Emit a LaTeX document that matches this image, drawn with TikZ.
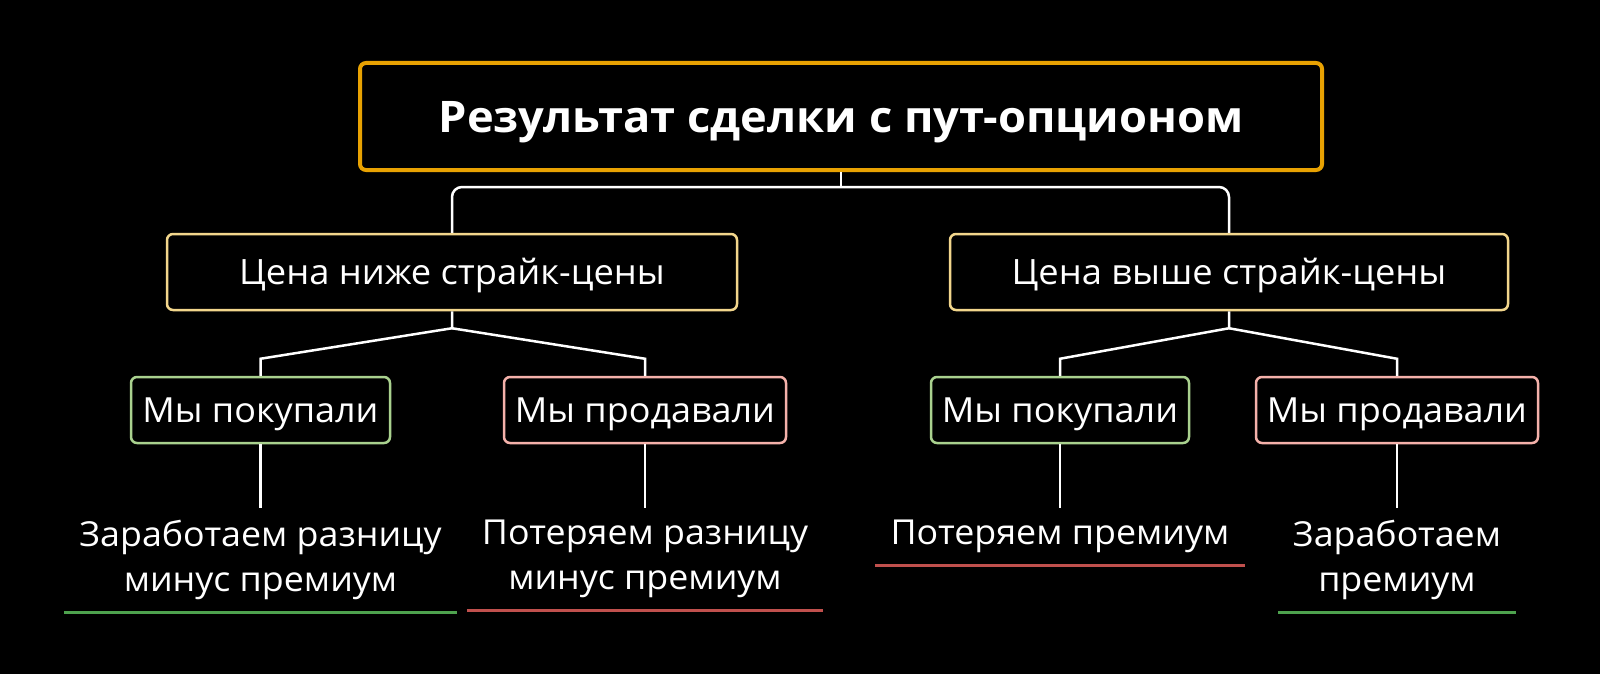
\documentclass[tikz,border=0pt]{standalone}
\usepackage{fontspec}
\setmainfont{Open Sans}[FakeStretch=1.04]
\usetikzlibrary{calc}
\definecolor{boxorange}{HTML}{E8A202}
\definecolor{boxyellow}{HTML}{F2D68C}
\definecolor{boxgreen}{HTML}{A9D18E}
\definecolor{boxpink}{HTML}{F4B1AA}
\definecolor{linegreen}{HTML}{4EA24E}
\definecolor{linered}{HTML}{C0504D}
\begin{document}
\begin{tikzpicture}[x=1pt,y=-1pt,
        box/.style={draw, rounded corners=6pt, line width=2.5pt, text=white, align=center, text depth=0pt},
        case/.style={box, draw=boxyellow, minimum height=76pt, text height=24.9pt, font=\fontsize{34.9}{42}\selectfont},
        side/.style={box, minimum width=#1, minimum height=66pt, text height=24.7pt, font=\fontsize{34.6}{42}\selectfont},
        res/.style={text=white, align=center, anchor=north, inner xsep=15pt, inner ysep=12pt, font=\fontsize{34.4}{45}\selectfont},
        link/.style={white, line width=2.5pt}]
    \def\fork{17}
    \fill[black] (0,0) rectangle (1600,674);
    \useasboundingbox (0,0) rectangle (1600,674);

    \node[box, draw=boxorange, line width=4pt, minimum width=962pt, minimum height=107pt, text height=31pt, font=\bfseries\fontsize{43.5}{52}\selectfont] (deal) at (841,116.5) {Результат сделки с пут-опционом};
    \node[case, minimum width=570pt] (below) at (452,272) {Цена ниже страйк-цены};
    \node[case, minimum width=558pt] (above) at (1229,272) {Цена выше страйк-цены};

    \node[side=259pt, draw=boxgreen] (lobuy) at (260.5,410) {Мы покупали};
    \node[side=282pt, draw=boxpink] (losell) at (645,410) {Мы продавали};
    \node[side=258pt, draw=boxgreen] (hibuy) at (1060,410) {Мы покупали};
    \node[side=282pt, draw=boxpink] (hisell) at (1397,410) {Мы продавали};

    \node[res] (lobuyres) at (260.5,508) {Заработаем разницу\\минус премиум};
    \node[res] (losellres) at (645,508) {Потеряем разницу\\минус премиум};
    \node[res] (hibuyres) at (1060,508) {Потеряем премиум};
    \node[res] (hisellres) at (1397,508) {Заработаем\\премиум};

    % top split
    \coordinate (split) at (841,187);
    \draw[link] (deal.south) -- (split);
    \draw[link, rounded corners=10pt] (below.north) |- (split) -| (above.north);

    % forks under the two cases
    \draw[link] (lobuy.north) -- ++(0,-\fork) -- ($(below.south)+(0,\fork)$) -- (below.south);
    \draw[link] (losell.north) -- ++(0,-\fork) -- ($(below.south)+(0,\fork)$);
    \draw[link] (hibuy.north) -- ++(0,-\fork) -- ($(above.south)+(0,\fork)$) -- (above.south);
    \draw[link] (hisell.north) -- ++(0,-\fork) -- ($(above.south)+(0,\fork)$);

    \draw[link] (lobuy.south) -- (lobuyres.north);
    \draw[link] (losell.south) -- (losellres.north);
    \draw[link] (hibuy.south) -- (hibuyres.north);
    \draw[link] (hisell.south) -- (hisellres.north);

    \draw[linegreen, line width=3pt] (lobuyres.south west) -- (lobuyres.south east);
    \draw[linered, line width=3pt] (losellres.south west) -- (losellres.south east);
    \draw[linered, line width=3pt] (hibuyres.south west) -- (hibuyres.south east);
    \draw[linegreen, line width=3pt] (hisellres.south west) -- (hisellres.south east);
\end{tikzpicture}
\end{document}
